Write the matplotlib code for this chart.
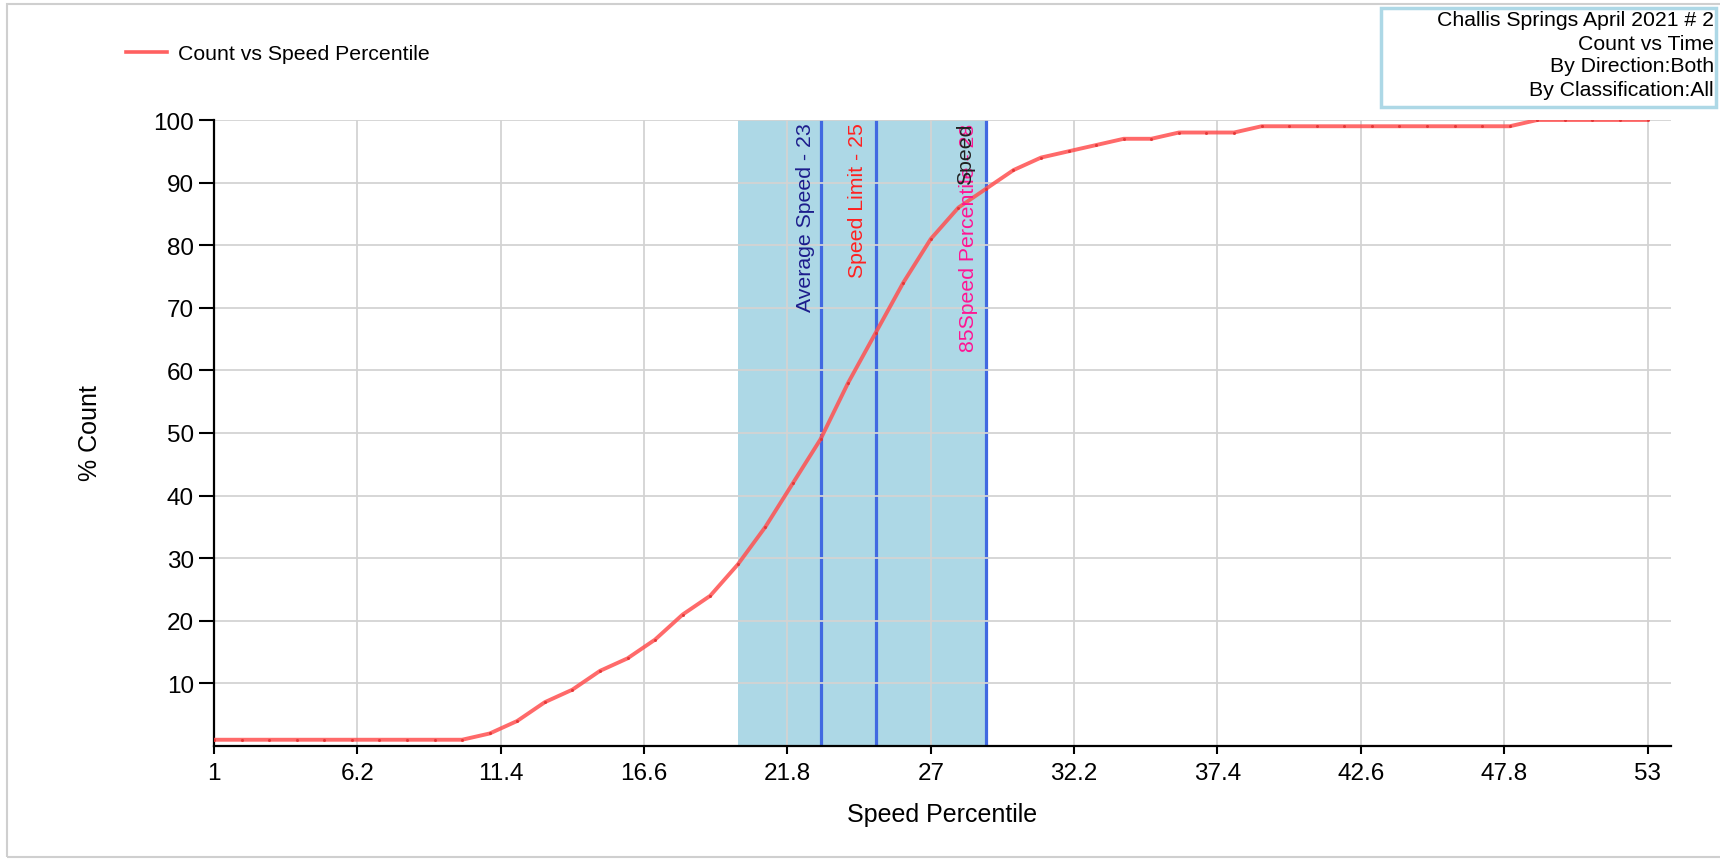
import matplotlib
matplotlib.use("Agg")
import matplotlib.pyplot as plt
from matplotlib.patches import Rectangle

plt.rcParams['font.family'] = ['Liberation Sans', 'DejaVu Sans']

# ---- data ----
speeds = list(range(1, 54))
pct_count = [1, 1, 1, 1, 1, 1, 1, 1, 1, 1,
             2, 4, 7, 9, 12, 14, 17, 21, 24, 29,
             35, 42, 49, 58, 66, 74, 81, 86, 89, 92,
             94, 95, 96, 97, 97, 98, 98, 98, 99, 99,
             99, 99, 99, 99, 99, 99, 99, 99, 100, 100,
             100, 100, 100]
x_ticks = [1, 6.2, 11.4, 16.6, 21.8, 27, 32.2, 37.4, 42.6, 47.8, 53]
x_tick_labels = ["1", "6.2", "11.4", "16.6", "21.8", "27", "32.2", "37.4", "42.6", "47.8", "53"]
y_ticks = [10, 20, 30, 40, 50, 60, 70, 80, 90, 100]
band_start, band_end = 20, 29
avg_speed = 23
speed_limit = 25
p85_speed = 29
p85_label_value = 28
title_lines = ["Challis Springs April 2021 # 2", "Count vs Time",
               "By Direction:Both", "By Classification:All"]
series_name = "Count vs Speed Percentile"

W, H = 1720, 862
fig = plt.figure(figsize=(W / 100, H / 100), dpi=100)

def fx(px):
    return px / W

def fy(py):
    return 1 - py / H

# outer border
fig.patches.append(Rectangle((fx(7), fy(858)), fx(1740) - fx(7), fy(5) - fy(858),
                             transform=fig.transFigure, fill=False,
                             edgecolor='#cfcfcf', lw=1.5))

ax_left, ax_right, ax_top, ax_bottom = 214, 1671, 121, 747
ax = fig.add_axes([fx(ax_left), fy(ax_bottom), fx(ax_right) - fx(ax_left), fy(ax_top) - fy(ax_bottom)])

ax.axvspan(band_start, band_end, color='#add8e6', zorder=0.3, lw=0)
for xv in (avg_speed, speed_limit, p85_speed):
    ax.axvline(xv, color='#4169e1', lw=2.3, zorder=1.2)

ax.plot(speeds, pct_count, color='#ff5050', lw=2.8, alpha=0.85, zorder=3,
        marker='o', markersize=2.2, markerfacecolor='#e03030', markeredgewidth=0,
        label=series_name, solid_capstyle='round')

ax.set_xlim(1, 53.85)
ax.set_ylim(0, 100)
ax.set_xticks(x_ticks)
ax.set_xticklabels(x_tick_labels)
ax.set_yticks(y_ticks)
ax.tick_params(axis='both', labelsize=17.5, width=1.5, color='black', direction='out')
ax.tick_params(axis='x', length=5.5, pad=6)
ax.tick_params(axis='y', length=10.5, pad=4)
ax.set_axisbelow('line')
ax.grid(True, color='#d3d3d3', lw=1.3)
for s in ('top', 'right'):
    ax.spines[s].set_visible(False)
for s in ('left', 'bottom'):
    ax.spines[s].set_linewidth(1.6)
    ax.spines[s].set_color('black')

ax.set_xlabel("Speed Percentile", fontsize=18)
ax.xaxis.set_label_coords(0.5, (ax_bottom - 815) / (ax_bottom - ax_top))
ax.xaxis.label.set_verticalalignment('center')
ax.set_ylabel("% Count", fontsize=18)
ax.yaxis.set_label_coords((90 - ax_left) / (ax_right - ax_left), (ax_bottom - 433) / (ax_bottom - ax_top))
ax.yaxis.label.set_verticalalignment('center')

# vertical line labels
lab_kw = dict(rotation=90, ha='right', va='top', fontsize=15.3, zorder=4)
ax.text(avg_speed - 0.2, 99.6, f"Average Speed - {avg_speed}", color='#1c1c8c', **lab_kw)
ax.text(speed_limit - 0.3, 99.6, f"Speed Limit - {speed_limit}", color='#ff2020', **lab_kw)
ax.text(p85_speed - 0.3, 99.6, f"85Speed Percentile - {p85_label_value}", color='#ff1493', **lab_kw)
ax.text(p85_speed - 0.4, 99.6, "Speed", color='#202020', **lab_kw)

# legend
fig.lines.append(plt.Line2D([fx(126), fx(167)], [fy(53), fy(53)], transform=fig.transFigure,
                            color='#ff6060', lw=2.6))
fig.text(fx(178), fy(54), series_name, fontsize=15.3, va='center', ha='left')

# title box
fig.patches.append(Rectangle((fx(1381), fy(108)), fx(1716) - fx(1381), fy(9) - fy(108),
                             transform=fig.transFigure, fill=False,
                             edgecolor='#add8e6', lw=2.5))
for i, line in enumerate(title_lines):
    fig.text(fx(1714), fy(21 + 23 * i), line, fontsize=15.3, ha='right', va='center')

fig.savefig("out.png", dpi=100)
